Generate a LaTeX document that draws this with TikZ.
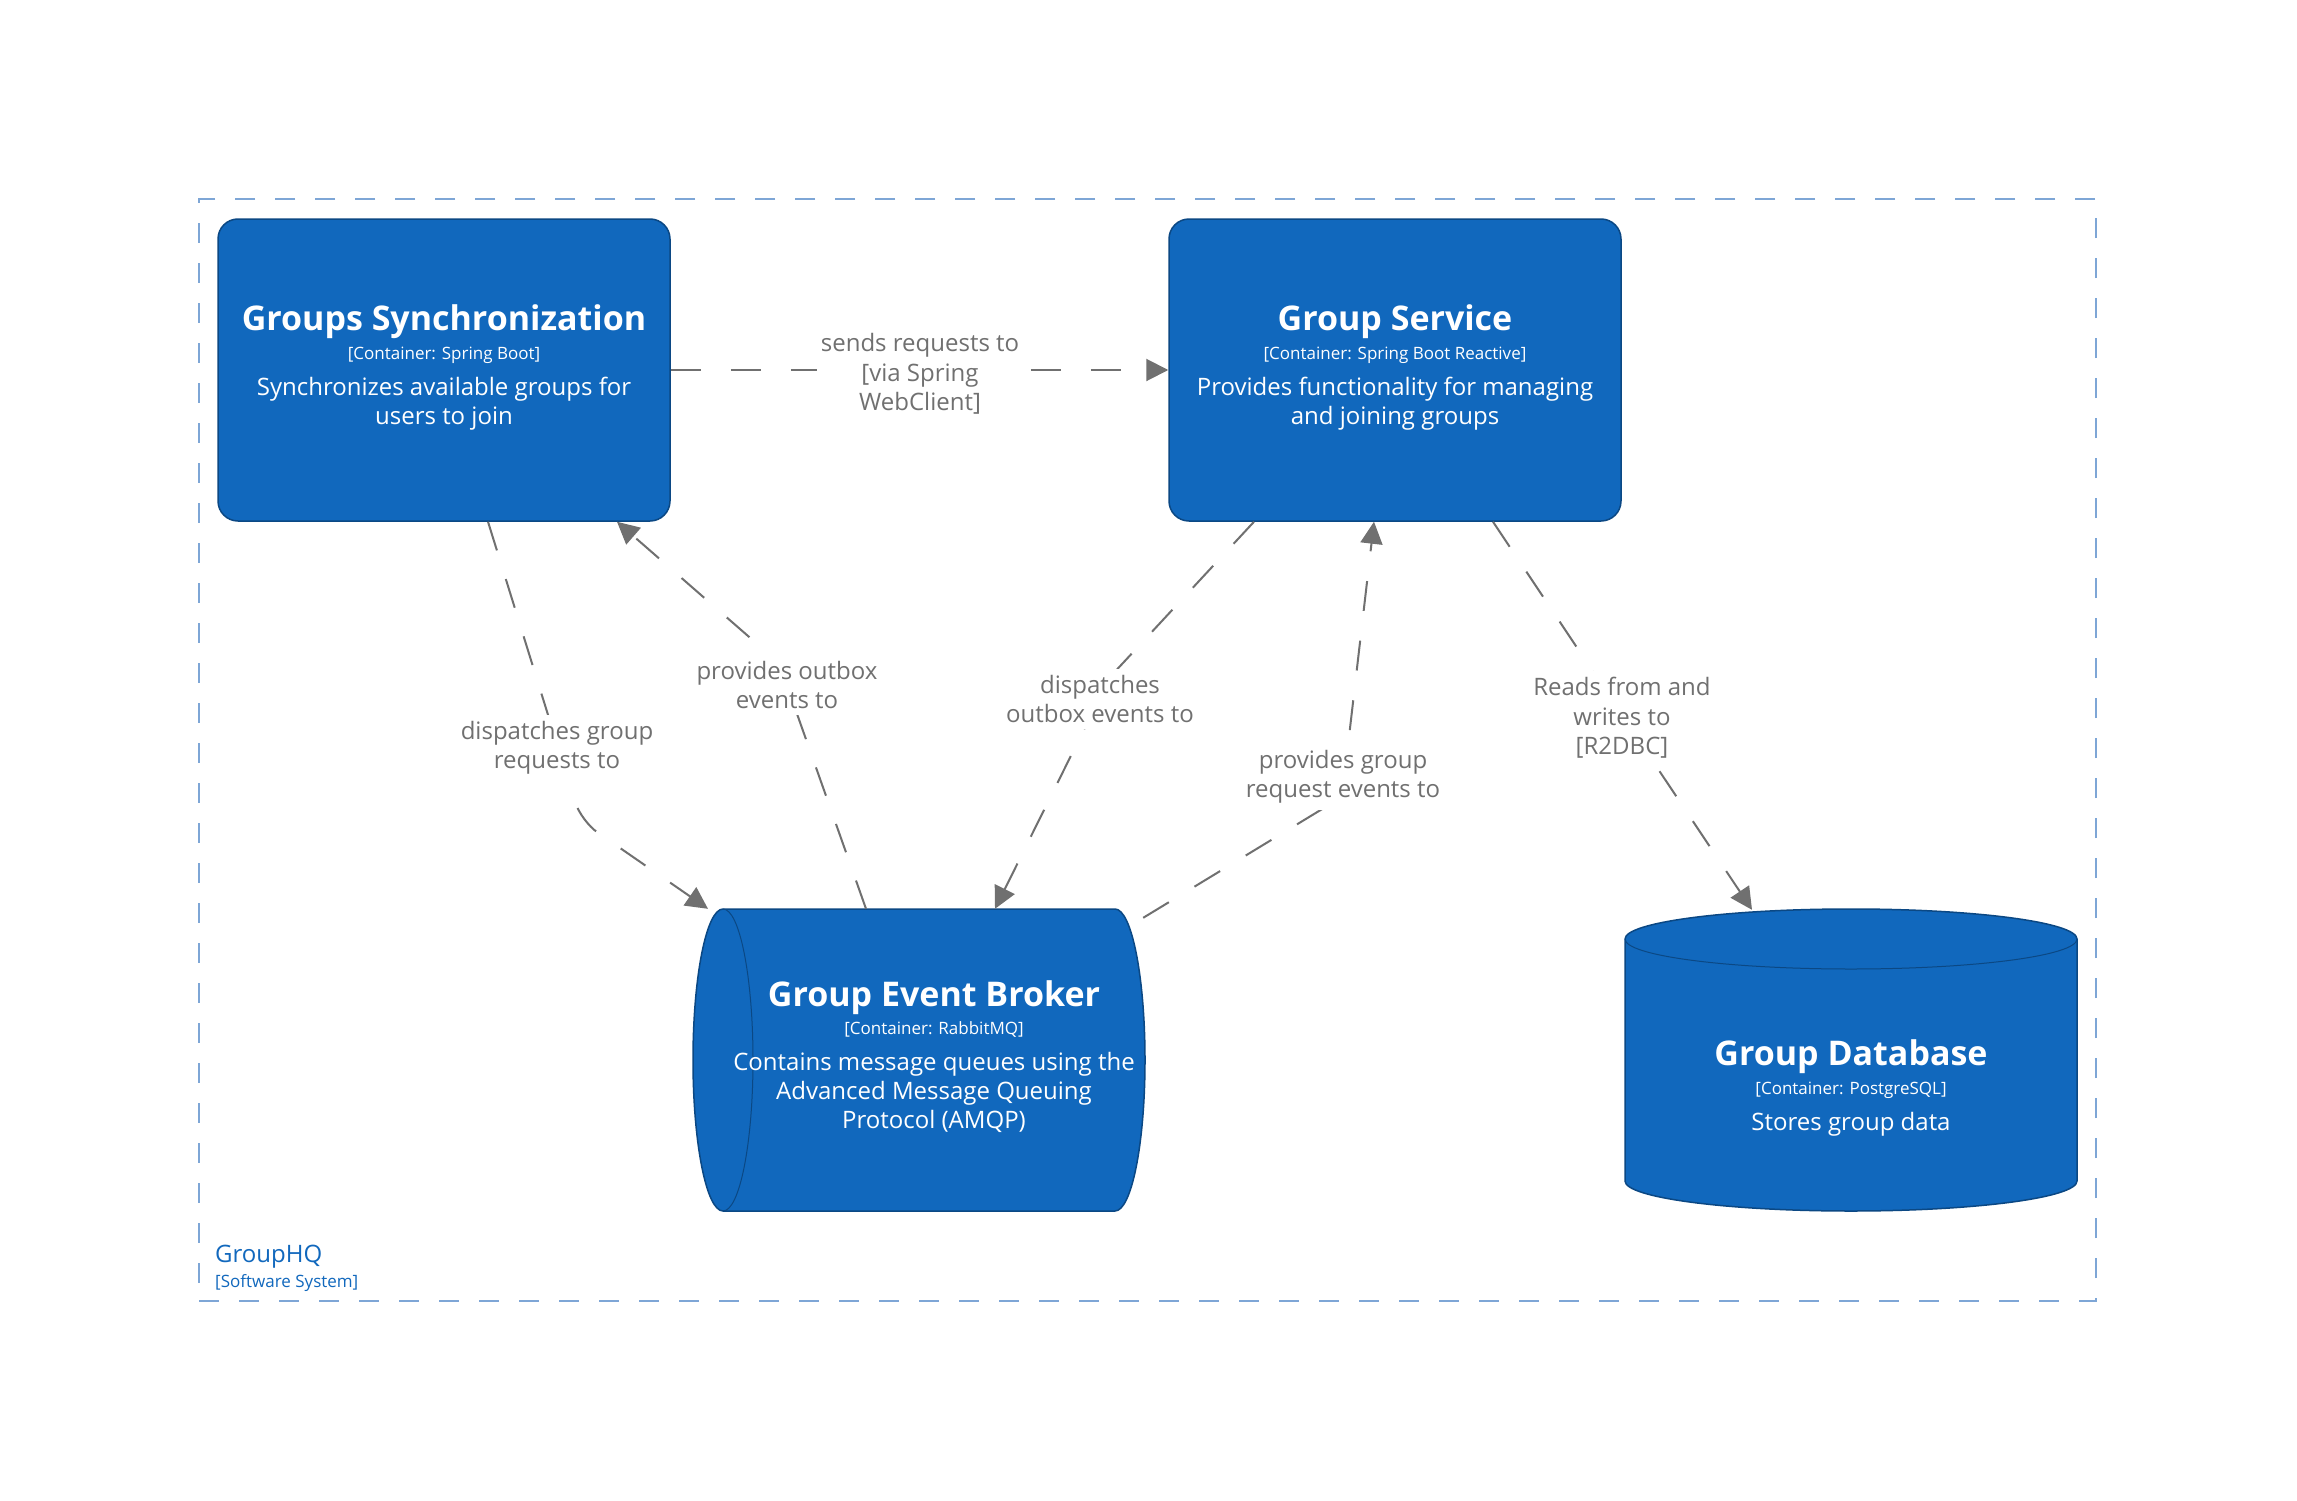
\documentclass[tikz,border=0pt]{standalone}
\usepackage{fontspec}
\setmainfont{Open Sans}
\usetikzlibrary{arrows.meta,calc}
\definecolor{boxfill}{RGB}{17,104,189}
\definecolor{boxline}{RGB}{11,72,132}
\definecolor{conngray}{RGB}{112,112,112}
\definecolor{boundblue}{RGB}{126,166,214}
\definecolor{boundtxt}{RGB}{17,104,189}
\begin{document}
\begin{tikzpicture}[x=1pt,y=-1pt,
  container/.style={draw=boxline, fill=boxfill, line width=1.5pt, rounded corners=20pt, minimum width=452pt, minimum height=302pt, inner sep=0pt},
  holder/.style={minimum width=452pt, minimum height=302pt, inner sep=0pt},
  cylfill/.style={fill=boxfill, draw=boxline, line width=1.5pt},
  ttl/.style={text=white, font=\fontsize{34}{41}\selectfont\bfseries, anchor=base, inner sep=0pt},
  meta/.style={text=white, font=\fontsize{17}{20}\selectfont, anchor=base, inner sep=0pt},
  desc/.style={text=white, font=\fontsize{24}{29}\selectfont, anchor=base, inner sep=0pt},
  conn/.style={draw=conngray, line width=2pt, dash pattern=on 30pt off 30pt, -{Triangle[length=22pt,width=22pt]}},
  lbl/.style={fill=white, text=conngray, font=\fontsize{24}{29.5}\selectfont, align=center, inner xsep=4pt, inner ysep=6pt},
]
\fill[white] (0,0) rectangle (2297,1501);
\useasboundingbox (0,0) rectangle (2297,1501);

% system boundary
\node[draw=boundblue, line width=2pt, dash pattern=on 20pt off 20pt, minimum width=1897pt, minimum height=1102pt, inner sep=0pt] (sys) at (1147.5,750) {};
\node[anchor=base west, inner sep=0pt, text=boundtxt, font=\fontsize{24}{29}\selectfont] (sysname) at (215,1262) {GroupHQ};
\node[anchor=base west, inner sep=0pt, text=boundtxt, font=\fontsize{17}{20}\selectfont] (systype) at (215,1287) {[Software System]};

% containers
\node[container] (gs) at (444,370) {};
\node[container] (gsvc) at (1395,370) {};
\node[holder] (broker) at (919,1060) {};
\node[holder] (db) at (1851,1060) {};

% broker cylinder (horizontal)
\path[cylfill] (723,909) -- (1115,909) arc[start angle=90, end angle=-90, x radius=30pt, y radius=151pt] -- (723,1211) arc[start angle=270, end angle=90, x radius=30pt, y radius=151pt] -- cycle;
\draw[boxline, line width=1pt] (723,909) arc[start angle=90, end angle=-90, x radius=30pt, y radius=151pt];

% database cylinder (vertical)
\path[cylfill] (1625,939) -- (1625,1181) arc[start angle=180, end angle=360, x radius=226pt, y radius=30pt] -- (2077,939) arc[start angle=0, end angle=180, x radius=226pt, y radius=30pt] -- cycle;
\draw[boxline, line width=1pt] (1625,939) arc[start angle=180, end angle=360, x radius=226pt, y radius=30pt];

% texts
\node[ttl] (gsT) at (444,330) {Groups Synchronization};
\node[meta] (gsM) at (444,359) {[Container: Spring Boot]};
\node[desc] (gsD1) at (444,395) {Synchronizes available groups for};
\node[desc] (gsD2) at (444,424) {users to join};

\node[ttl] (gsvcT) at (1395,330) {Group Service};
\node[meta] (gsvcM) at (1395,359) {[Container: Spring Boot Reactive]};
\node[desc] (gsvcD1) at (1395,395) {Provides functionality for managing};
\node[desc] (gsvcD2) at (1395,424) {and joining groups};

\node[ttl] (brT) at (934,1006) {Group Event Broker};
\node[meta] (brM) at (934,1034) {[Container: RabbitMQ]};
\node[desc] (brD1) at (934,1070) {Contains message queues using the};
\node[desc] (brD2) at (934,1099) {Advanced Message Queuing};
\node[desc] (brD3) at (934,1128) {Protocol (AMQP)};

\node[ttl] (dbT) at (1851,1065) {Group Database};
\node[meta] (dbM) at (1851,1094) {[Container: PostgreSQL]};
\node[desc] (dbD) at (1851,1130) {Stores group data};

% connectors
\draw[conn] (gs.east) -- (gsvc.west);
\draw[conn, rounded corners=20pt] ([xshift=44pt]gs.south) -- (581,821) -- ([xshift=-211pt]broker.north);
\draw[conn] ([xshift=-53pt]broker.north) -- (779,663) -- ([xshift=173pt]gs.south);
\draw[conn] ([xshift=-141pt]gsvc.south) -- (1110,677) -- ([xshift=76pt]broker.north);
\draw[conn] ([xshift=-2pt,yshift=-9pt]broker.north east) -- (1342,797) -- ([xshift=-21pt]gsvc.south);
\draw[conn] ([xshift=98pt]gsvc.south) -- ([xshift=-99pt,yshift=-1pt]db.north);

% connector labels
\node[lbl] (l1) at (920,374) {sends requests to\\{[}via Spring\\WebClient]};
\node[lbl] (l2) at (557,748) {dispatches group\\requests to};
\node[lbl] (l3) at (787,685) {provides outbox\\events to};
\node[lbl] (l4) at (1100,699) {dispatches\\outbox events to};
\node[lbl] (l5) at (1343,777) {provides group\\request events to};
\node[lbl] (l6) at (1622,718) {Reads from and\\writes to\\{[}R2DBC]};
\end{tikzpicture}
\end{document}
